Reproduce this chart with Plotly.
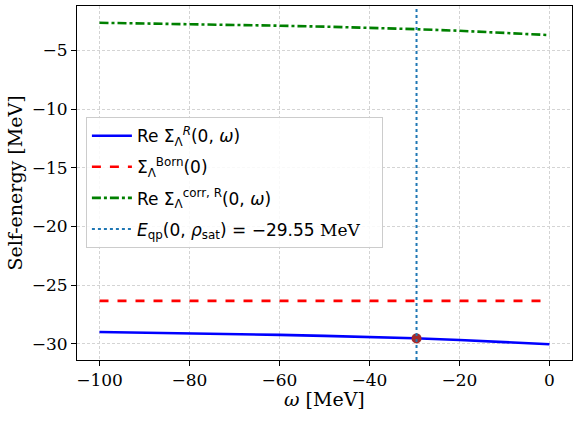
import plotly.graph_objects as go

omega = [-100, -90, -80, -70, -60, -50, -40, -30, -20, -10, 0]
re_sigma_total = [-29.00, -29.05, -29.11, -29.18, -29.25, -29.33, -29.42, -29.54, -29.68, -29.85, -30.05]
sigma_born = [-26.35] * len(omega)
re_sigma_corr = [-2.65, -2.70, -2.76, -2.83, -2.90, -2.98, -3.07, -3.19, -3.33, -3.50, -3.70]
E_QP = -29.55
E_QP_SIGMA = -29.55

SERIF = "DejaVu Serif"
SANS = "DejaVu Sans"

fig = go.Figure()
fig.add_trace(go.Scatter(
    x=omega, y=re_sigma_total, mode="lines",
    line=dict(color="#0000ff", width=2.6), legendgroup="a",
    name="Re Σ<sub>Λ</sub><sup><i>R</i></sup>(0, <i>ω</i>)",
))
fig.add_trace(go.Scatter(
    x=omega, y=sigma_born, mode="lines",
    line=dict(color="#ff0000", width=2.6, dash="dash"), legendgroup="b",
    name="Σ<sub>Λ</sub><sup>Born</sup>(0)",
))
fig.add_trace(go.Scatter(
    x=omega, y=re_sigma_corr, mode="lines",
    line=dict(color="#008000", width=2.6, dash="dashdot"), legendgroup="c",
    name="Re Σ<sub>Λ</sub><sup>corr, R</sup>(0, <i>ω</i>)",
))
fig.add_trace(go.Scatter(
    x=[None], y=[None], mode="lines",
    line=dict(color="#1f77b4", width=2, dash="dot"), legendgroup="d",
    name="<i>E</i><sub>qp</sub>(0, <i>ρ</i><sub>sat</sub>) = −29.55 <span style=\"font-family:DejaVu Serif\">MeV</span>\u2002\u2002",
))
fig.add_shape(type="line", xref="x", yref="y domain", x0=E_QP, x1=E_QP, y0=0, y1=1,
              line=dict(color="#1f77b4", width=2, dash="dot"), layer="above")
fig.add_trace(go.Scatter(
    x=[E_QP], y=[E_QP_SIGMA], mode="markers",
    marker=dict(color="#a52a2a", size=10), showlegend=False,
))

axis_common = dict(
    showline=True, linecolor="black", linewidth=1, mirror=True,
    ticks="outside", ticklen=5, tickcolor="black", tickwidth=1,
    showgrid=True, gridcolor="#d4d4d4", griddash="3px,2px", gridwidth=0.8,
    zeroline=False, automargin=False,
    tickfont=dict(family=SERIF, size=17, color="black"),
)

fig.update_layout(
    width=580, height=448,
    margin=dict(l=77, r=8, t=6, b=88),
    paper_bgcolor="white", plot_bgcolor="white",
    font=dict(family=SANS, size=17, color="black"),
    xaxis=dict(range=[-105, 5], tickmode="linear", tick0=-100, dtick=20, **axis_common),
    yaxis=dict(range=[-31.39, -1.22], tickmode="linear", tick0=-30, dtick=5,
               title=dict(text="Self-energy [MeV]", font=dict(family=SERIF, size=19), standoff=4),
               **axis_common),
    legend=dict(x=0.018, y=0.686, xanchor="left", yanchor="top",
                bgcolor="rgba(255,255,255,0.85)", bordercolor="#cccccc", borderwidth=1,
                font=dict(family=SANS, size=17), itemwidth=40, tracegroupgap=6),
    showlegend=True,
    annotations=[dict(text="<i>ω</i> [MeV]", xref="paper", yref="paper", x=0.5, y=-0.11,
                      xanchor="center", yanchor="middle", showarrow=False,
                      font=dict(family=SERIF, size=19, color="black"))],
)

fig.write_html("out.html", config={"displayModeBar": False},
               post_script="document.body.style.margin='0';document.body.style.padding='0';")
